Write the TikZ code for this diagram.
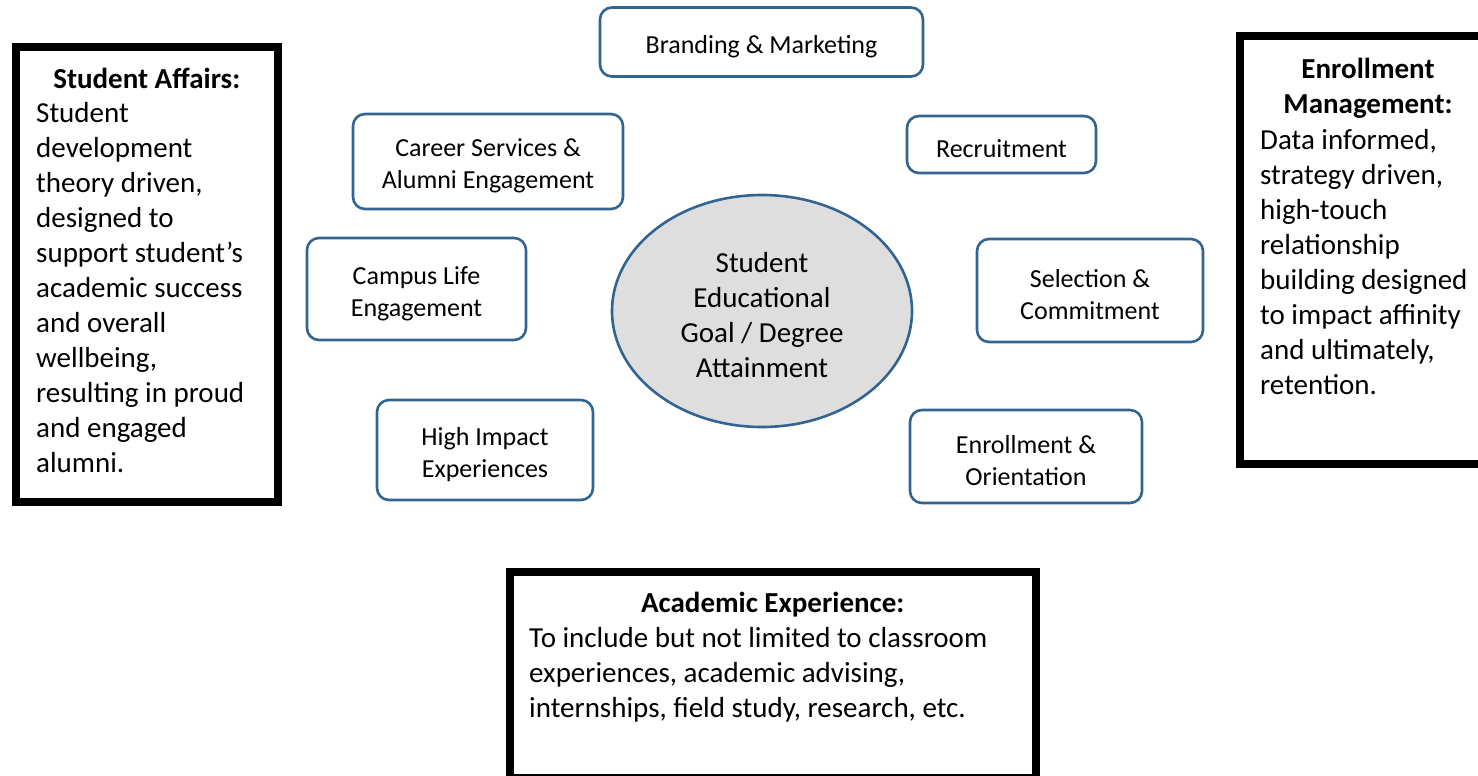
\documentclass[tikz,border=0pt]{standalone}
\usepackage{fontspec}
\setmainfont{Carlito}
\usetikzlibrary{shapes.geometric}
\definecolor{unitblue}{RGB}{50,100,145}
\definecolor{goalgray}{RGB}{222,222,222}
% extra head room on the first line, so the text sits a little lower
\newcommand\unitstrut{\rule{0pt}{26.5pt}}
\newcommand\goalstrut{\rule{0pt}{28pt}}
\begin{document}
\begin{tikzpicture}[x=1pt,y=-1pt,
  unit/.style={draw=unitblue, line width=2.6pt, rounded corners=12pt, fill=white,
    align=center, inner sep=0pt, font=\fontsize{26}{32}\selectfont},
  goal/.style={ellipse, draw=unitblue, line width=2.6pt, fill=goalgray,
    align=center, inner sep=0pt, font=\fontsize{29}{35}\selectfont},
  area/.style={draw=black, line width=8pt, inner sep=0pt},
  headtext/.style={inner sep=0pt, anchor=north, align=center,
    font=\fontsize{29}{35}\selectfont\bfseries},
  bodytext/.style={inner sep=0pt, anchor=north west, align=left,
    font=\fontsize{29}{35}\selectfont}]
\useasboundingbox (0,0) rectangle (1478,776);
\clip (0,0) rectangle (1478,776);

% outer frames for the three areas
\node[area, minimum width=261.5pt, minimum height=455pt] (affairs) at (146.75,274.5) {};
\node[area, minimum width=260pt, minimum height=427.5pt] (enroll) at (1370,250.25) {};
\node[area, minimum width=525.5pt, minimum height=206pt] (academic) at (772.75,675) {};

% area texts
\node[headtext] (affairshead) at (146.75,63.5) {\strut Student Affairs:};
\node[bodytext] (affairsbody) at (36,97.5) {\strut Student\\ development\\ theory driven,\\ designed to\\
  support student’s\\ academic success\\ and overall\\ wellbeing,\\ resulting in proud\\ and engaged\\ alumni.};

\node[headtext] (enrollhead) at (1368,54) {\strut Enrollment\\ Management:};
\node[bodytext] (enrollbody) at (1260,125) {\strut Data informed,\\ strategy driven,\\ high-touch\\ relationship\\
  building designed\\ to impact affinity\\ and ultimately,\\ retention.};

\node[headtext] (academichead) at (772.75,587.5) {\strut Academic Experience:};
\node[bodytext] (academicbody) at (529,622.5) {\strut To include but not limited to classroom\\
  experiences, academic advising,\\ internships, field study, research, etc.};

% central goal
\node[goal, minimum width=300pt, minimum height=232pt] (goal) at (762,311)
  {\goalstrut Student\\ Educational\\ Goal / Degree\\ Attainment};

% surrounding units
\node[unit, minimum width=323pt, minimum height=69pt] (brand) at (761.5,42) {\unitstrut Branding \& Marketing};
\node[unit, minimum width=189pt, minimum height=57pt] (recruit) at (1001.5,144.5) {\unitstrut Recruitment};
\node[unit, minimum width=226pt, minimum height=103pt] (select) at (1090,290.5) {\unitstrut Selection \&\\ Commitment};
\node[unit, minimum width=232pt, minimum height=93pt] (orient) at (1026,456.5) {\unitstrut Enrollment \&\\ Orientation};
\node[unit, minimum width=270pt, minimum height=95pt] (career) at (488,161.5) {\unitstrut Career Services \&\\ Alumni Engagement};
\node[unit, minimum width=219pt, minimum height=102pt] (campus) at (416.5,289) {\unitstrut Campus Life\\ Engagement};
\node[unit, minimum width=216pt, minimum height=100pt] (impact) at (485,450) {\unitstrut High Impact\\ Experiences};
\end{tikzpicture}
\end{document}
